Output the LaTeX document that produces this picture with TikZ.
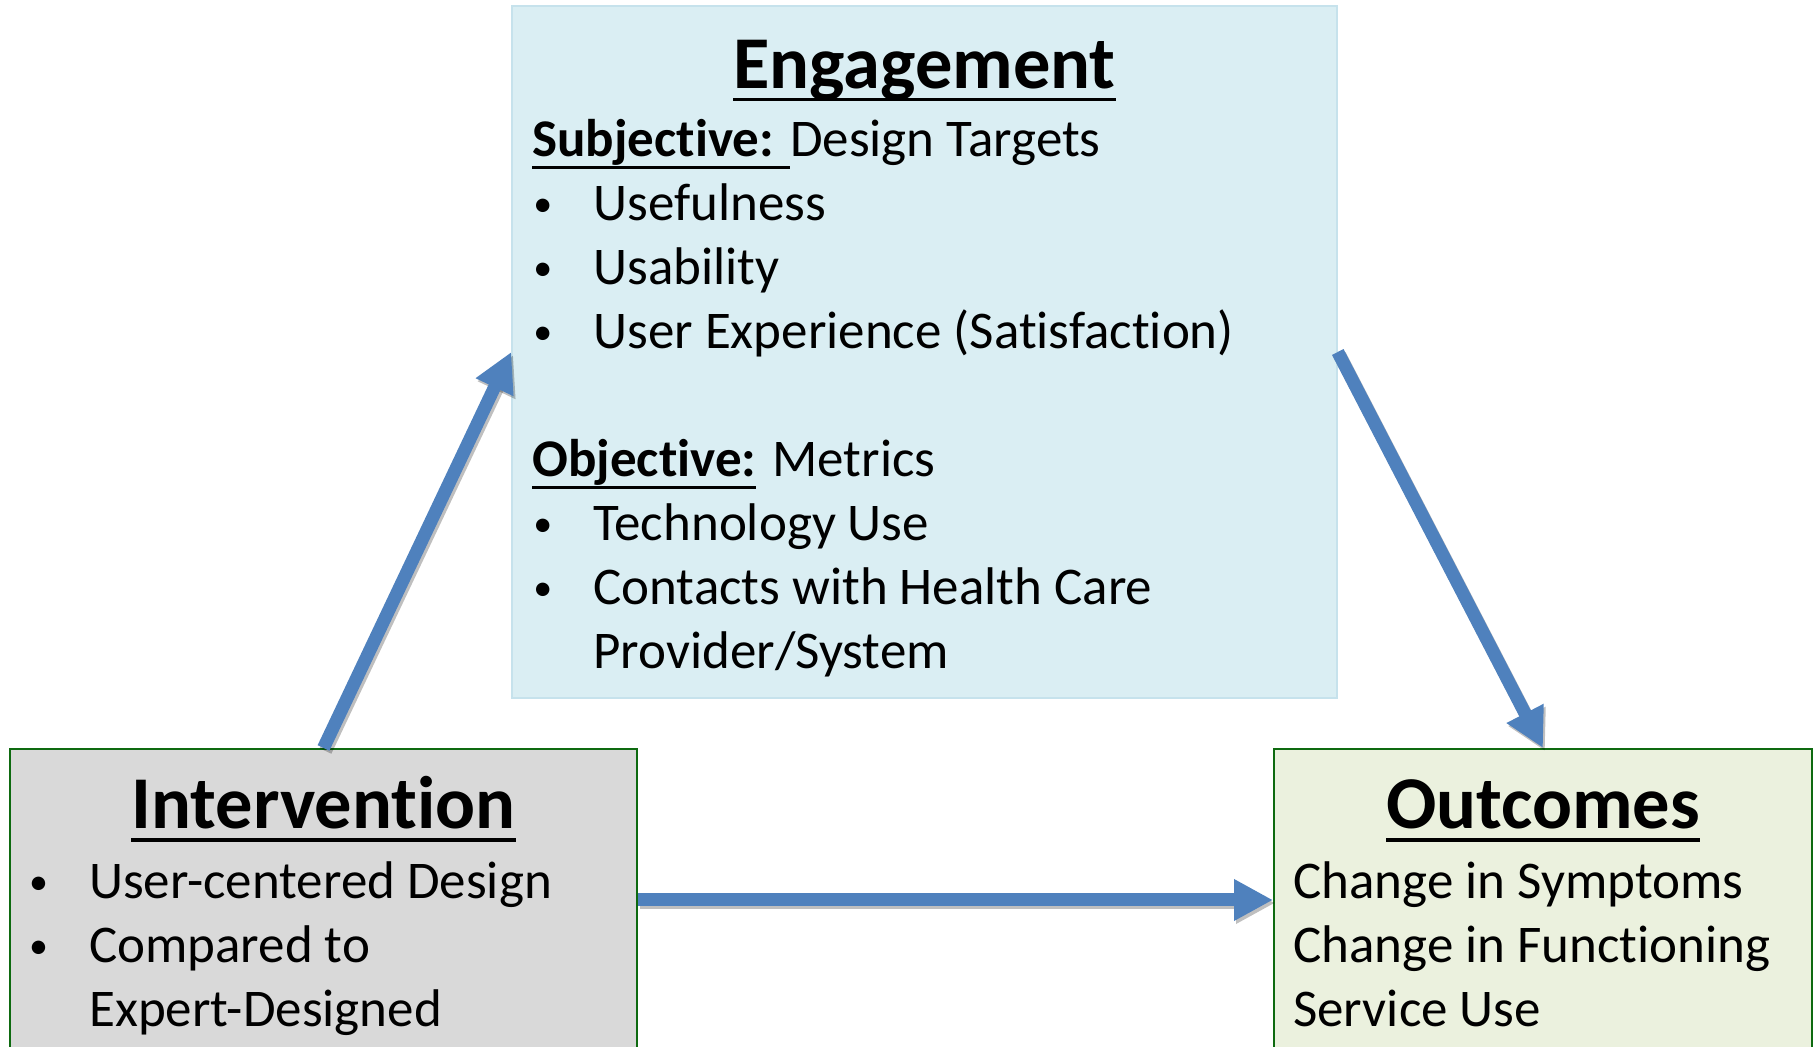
\documentclass[tikz,border=0pt]{standalone}
\usepackage{fontspec}
\setmainfont{Carlito}[Ligatures={CommonOff,ContextualOff}, RawFeature=-calt, RawFeature=-liga]
\usetikzlibrary{positioning,arrows.meta}

\definecolor{engfill}{HTML}{DAEEF3}
\definecolor{engline}{HTML}{C6E2EC}
\definecolor{intfill}{HTML}{D9D9D9}
\definecolor{outfill}{HTML}{EBF1DE}
\definecolor{boxline}{HTML}{0E6A10}
\definecolor{flowblue}{HTML}{4F81BD}

% underlined headings and terms
\newlength\ulwidth
\newcommand{\ulhead}[1]{\settowidth{\ulwidth}{#1}\rlap{\rule[-13pt]{\ulwidth}{3.5pt}}#1}
\newcommand{\ulterm}[1]{\settowidth{\ulwidth}{#1}\rlap{\rule[-12pt]{\ulwidth}{3pt}}#1}
% bullet and continuation indent
\newcommand{\bitem}{\makebox[61pt][l]{\hspace{1pt}\raisebox{4pt}{\fontsize{38}{38}\selectfont\textbullet}}}
\newcommand{\bcont}{\hspace*{61pt}}

\begin{document}
\begin{tikzpicture}[
    x=1pt, y=1pt,
    box/.style={rectangle, inner sep=0pt, line width=2pt},
    engbox/.style={box, draw=engline, line width=1.5pt, fill=engfill, minimum width=825pt, minimum height=692pt},
    intbox/.style={box, draw=boxline, fill=intfill, minimum width=627pt, minimum height=302pt},
    outbox/.style={box, draw=boxline, fill=outfill, minimum width=538pt, minimum height=302pt},
    heading/.style={font=\fontsize{74.5}{90}\selectfont\bfseries, inner sep=0pt, anchor=base},
    body/.style={font=\fontsize{53}{64}\selectfont, align=left, inner sep=0pt, anchor=base west},
    flow/.style={-{Triangle[length=39pt,width=39pt]}, line width=13pt, draw=flowblue},
    flowshadow/.style={flow, draw=black, opacity=0.25, transform canvas={shift={(2pt,-3pt)}}}
]
    \useasboundingbox (0,0) rectangle (1816,1047);

    % the three boxes
    \node[engbox] (engage) at (924.5,695) {};
    \node[intbox] (inter) at (323.5,147) {};
    \node[outbox] (outcome) at (1543,147) {};

    % headings
    \node[heading] (engtitle) at ([yshift=-83pt]engage.north) {\ulhead{Engagement}};
    \node[heading] (inttitle) at ([yshift=-81pt]inter.north) {\ulhead{Intervention}};
    \node[heading] (outtitle) at ([yshift=-81pt]outcome.north) {\ulhead{Outcomes}};

    % box contents, placed by the baseline of their last line
    \node[body] (englist) at ([xshift=21pt,yshift=-663.5pt]engage.north west) {%
        \ulterm{\textbf{Subjective: }}Design Targets\\
        \bitem Usefulness\\
        \bitem Usability\\
        \bitem User Experience (Satisfaction)\\[64pt]
        \ulterm{\textbf{Objective:}} Metrics\\
        \bitem Technology Use\\
        \bitem Contacts with Health Care\\
        \bcont Provider/System};
    \node[body] (intlist) at ([xshift=19pt,yshift=-278.5pt]inter.north west) {%
        \bitem User-centered Design\\
        \bitem Compared to\\
        \bcont Expert-Designed};
    \node[body] (outlist) at ([xshift=20pt,yshift=-278.5pt]outcome.north west) {%
        Change in Symptoms\\
        Change in Functioning\\
        Service Use};

    % arrows between the boxes
    \draw[flowshadow] (inter.north) -- (engage.west);
    \draw[flowshadow] (engage.east) -- (outcome.north);
    \draw[flowshadow] (inter.east) -- (outcome.west);
    \draw[flow] (inter.north) -- (engage.west);
    \draw[flow] (engage.east) -- (outcome.north);
    \draw[flow] (inter.east) -- (outcome.west);
\end{tikzpicture}
\end{document}
